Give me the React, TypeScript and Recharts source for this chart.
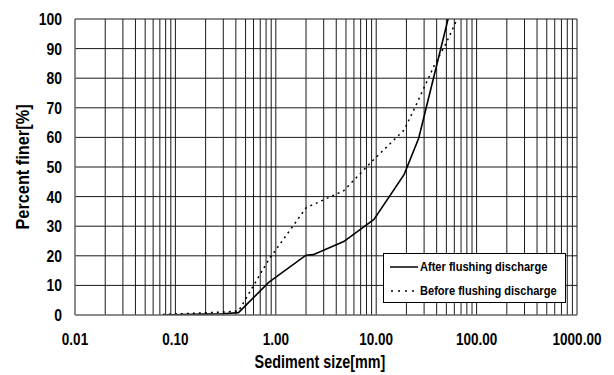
import React from 'react';
import { LineChart, Line, XAxis, YAxis, CartesianGrid } from 'recharts';

// Sediment size [mm] and percent finer [%]
const afterSize = [0.075, 0.15, 0.3, 0.425, 0.85, 2.0, 2.36, 4.75, 9.5, 19, 26.5, 37.5, 52];
const afterFiner = [0, 0.2, 0.4, 0.8, 11.0, 20.2, 20.4, 24.8, 32.3, 47.5, 59.7, 80.5, 100];
const beforeSize = [0.075, 0.15, 0.3, 0.425, 0.85, 2.0, 4.75, 9.5, 19, 25, 37.5, 50, 64];
const beforeFiner = [0.2, 0.6, 1.0, 1.3, 18.7, 36.2, 42, 52.6, 62.5, 71, 84, 92, 100];

const xMajorTicks = [0.01, 0.1, 1, 10, 100, 1000];
const xMajorLabels = ['0.01', '0.10', '1.00', '10.00', '100.00', '1000.00'];
const minorMultipliers = [1, 2, 3, 4, 5, 6, 7, 8, 9];
const yTicks = [0, 10, 20, 30, 40, 50, 60, 70, 80, 90, 100];
const yMinorTicks = Array.from({ length: 101 }, (_, i) => i);

const seriesNames = ['After flushing discharge', 'Before flushing discharge'];
const xTitle = 'Sediment size[mm]';
const yTitle = 'Percent finer[%]';

const afterData = afterSize.map((d, i) => ({ d, p: afterFiner[i] }));
const beforeData = beforeSize.map((d, i) => ({ d, p: beforeFiner[i] }));

const xAllTicks: number[] = [];
xMajorTicks.forEach((t, i) => {
  if (i === xMajorTicks.length - 1) {
    xAllTicks.push(t);
  } else {
    minorMultipliers.forEach((m) => xAllTicks.push(parseFloat((t * m).toPrecision(6))));
  }
});

const FONT = "'Liberation Sans', Arial, sans-serif";
const SQ = 0.82; // horizontal condensing factor

const fmtX = (v: number) => {
  const idx = xMajorTicks.findIndex((t) => Math.abs(t - v) / t < 1e-6);
  return idx >= 0 ? xMajorLabels[idx] : '';
};

const XTick = (props: any) => {
  const { x, y, payload } = props;
  const label = fmtX(payload.value);
  if (!label) return null;
  return (
    <text
      transform={`translate(${x},${y}) scale(${SQ},1)`}
      textAnchor="middle"
      dy="0.71em"
      fill="#000"
      fontSize={16.5}
      fontFamily={FONT}
      fontWeight="bold"
    >
      {label}
    </text>
  );
};

const YTick = (props: any) => {
  const { x, y, payload } = props;
  return (
    <text
      transform={`translate(${x},${y}) scale(${SQ},1)`}
      textAnchor="end"
      dy="0.355em"
      fill="#000"
      fontSize={17}
      fontFamily={FONT}
      fontWeight="bold"
    >
      {payload.value}
    </text>
  );
};

const LegendBox = () => (
  <div
    style={{
      position: 'absolute',
      left: 383,
      top: 253,
      width: 181,
      height: 48,
      border: '1px solid #000',
      background: '#fff',
      fontFamily: FONT,
      fontWeight: 'bold',
      fontSize: 13.5,
      color: '#000',
    }}
  >
    {seriesNames.map((name, i) => (
      <div
        key={name}
        style={{ display: 'flex', alignItems: 'center', height: i === 0 ? 25 : 23, paddingLeft: 6, whiteSpace: 'nowrap' }}
      >
        <svg width={30} height={6} style={{ flex: 'none' }}>
          {i === 0 ? (
            <line x1={0} y1={3} x2={28} y2={3} stroke="#000" strokeWidth={1.5} />
          ) : (
            <line x1={1} y1={3} x2={28} y2={3} stroke="#000" strokeWidth={1.5} strokeDasharray="2 5" />
          )}
        </svg>
        <span style={{ display: 'inline-block', transform: `scaleX(${SQ})`, transformOrigin: 'left center' }}>
          {name}
        </span>
      </div>
    ))}
  </div>
);

export default function App() {
  return (
    <div style={{ position: 'absolute', left: 0, top: 0, width: 614, height: 375, background: '#fff' }}>
      <LineChart width={614} height={375} margin={{ top: 19, right: 37, bottom: 0, left: 0 }}>
        <CartesianGrid stroke="#1a1a1a" strokeWidth={1} />
        <XAxis
          dataKey="d"
          type="number"
          scale="log"
          domain={[0.01, 1000]}
          ticks={xAllTicks}
          interval={0}
          allowDataOverflow
          tickLine={false}
          axisLine={{ stroke: '#888' }}
          tickSize={6}
          tickMargin={12}
          height={60}
          tick={<XTick />}
          label={{
            content: (props: any) => {
              const vb = props.viewBox;
              const cx = vb.x + vb.width / 2 - 6;
              const cy = vb.y + 47;
              return (
                <text
                  transform={`translate(${cx},${cy}) scale(${SQ},1)`}
                  textAnchor="middle"
                  dominantBaseline="central"
                  fill="#000"
                  fontSize={17.5}
                  fontFamily={FONT}
                  fontWeight="bold"
                >
                  {xTitle}
                </text>
              );
            },
          }}
        />
        <YAxis
          yAxisId={0}
          type="number"
          domain={[0, 100]}
          ticks={yTicks}
          interval={0}
          allowDataOverflow
          width={75}
          tickLine={false}
          axisLine={{ stroke: '#888' }}
          tickSize={5}
          tickMargin={8}
          tick={<YTick />}
          label={{
            content: (props: any) => {
              const vb = props.viewBox;
              const cx = vb.x + 23;
              const cy = vb.y + vb.height / 2;
              return (
                <text
                  transform={`translate(${cx},${cy}) rotate(-90) scale(0.86,1)`}
                  textAnchor="middle"
                  dominantBaseline="central"
                  fill="#000"
                  fontSize={19}
                  fontFamily={FONT}
                  fontWeight="bold"
                >
                  {yTitle}
                </text>
              );
            },
          }}
        />
        <YAxis
          yAxisId="minor"
          type="number"
          domain={[0, 100]}
          ticks={yMinorTicks}
          interval={0}
          mirror
          width={0}
          tick={false}
          tickSize={3}
          axisLine={false}
          tickLine={{ stroke: '#777' }}
        />
        <Line
          data={afterData}
          dataKey="p"
          name={seriesNames[0]}
          stroke="#000"
          strokeWidth={1.6}
          dot={false}
          isAnimationActive={false}
        />
        <Line
          data={beforeData}
          dataKey="p"
          name={seriesNames[1]}
          stroke="#000"
          strokeWidth={1.5}
          strokeDasharray="2 4"
          dot={false}
          isAnimationActive={false}
        />
      </LineChart>
      <LegendBox />
    </div>
  );
}
